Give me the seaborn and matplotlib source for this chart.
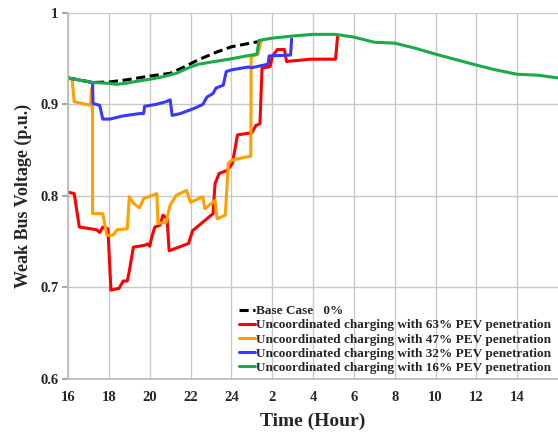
import matplotlib
matplotlib.use("Agg")
import matplotlib.pyplot as plt
import seaborn as sns

# --- data (hours counted from 16:00, 24 -> midnight) ---
t_base = [16.0, 17.2, 18.0, 18.9, 20.0, 21.0, 21.6, 22.4, 23.25, 24.0, 24.7, 25.4]
v_base = [0.929, 0.924, 0.9245, 0.927, 0.931, 0.934, 0.940, 0.949, 0.957, 0.963, 0.966, 0.969]

t_63 = [16.0, 16.3, 16.55, 17.4, 17.55, 17.7, 17.95, 18.1, 18.5, 18.7, 18.9, 19.0, 19.2,
        19.75, 19.9, 20.0, 20.1, 20.25, 20.5, 20.65, 20.85, 20.95, 21.9, 22.1, 23.1, 23.2,
        23.4, 23.8, 24.05, 24.3, 25.0, 25.2, 25.4, 25.5, 25.9, 26.0, 26.25, 26.6, 26.7,
        27.9, 29.1, 29.2]
v_63 = [0.804, 0.8026, 0.766, 0.763, 0.760, 0.766, 0.764, 0.697, 0.699, 0.707, 0.707, 0.718, 0.744,
        0.746, 0.7476, 0.745, 0.755, 0.766, 0.768, 0.779, 0.775, 0.740, 0.748, 0.762, 0.7806, 0.8135,
        0.8245, 0.828, 0.8355, 0.8667, 0.869, 0.877, 0.879, 0.9396, 0.9415, 0.9524, 0.960, 0.960, 0.947,
        0.9495, 0.9495, 0.9736]

t_47 = [16.0, 16.2, 16.3, 17.1, 17.15, 17.2, 17.2, 17.7, 17.9, 18.2, 18.4, 18.9, 19.0, 19.2,
        19.5, 19.7, 20.35, 20.4, 20.8, 21.0, 21.3, 21.8, 22.0, 22.6, 22.7, 23.2, 23.3, 23.7,
        23.85, 24.0, 24.95, 24.97, 25.3, 25.45]
v_47 = [0.929, 0.927, 0.903, 0.899, 0.918, 0.918, 0.7806, 0.7806, 0.757, 0.757, 0.763, 0.764, 0.799, 0.792,
        0.787, 0.797, 0.8025, 0.770, 0.771, 0.790, 0.8007, 0.806, 0.793, 0.799, 0.786, 0.795, 0.775, 0.779,
        0.8355, 0.839, 0.8436, 0.952, 0.955, 0.969]

t_32 = [16.0, 17.2, 17.22, 17.55, 17.7, 18.05, 18.7, 19.5, 19.7, 19.75, 20.3, 20.8, 21.0, 21.1,
        21.5, 22.1, 22.6, 22.8, 23.1, 23.25, 23.6, 23.75, 24.05, 24.85, 24.95, 25.8, 25.85, 26.9, 26.95]
v_32 = [0.929, 0.924, 0.901, 0.899, 0.884, 0.884, 0.8875, 0.890, 0.890, 0.898, 0.900, 0.903, 0.905, 0.888,
        0.890, 0.895, 0.900, 0.908, 0.912, 0.918, 0.921, 0.936, 0.938, 0.941, 0.940, 0.944, 0.953, 0.954, 0.9715]

t_16 = [16.0, 17.2, 18.0, 18.4, 18.8, 19.3, 20.0, 20.6, 21.3, 22.0, 22.4, 23.2, 23.9, 24.5, 25.25,
        25.35, 26.0, 27.1, 28.0, 29.1, 30.0, 31.0, 32.0, 33.0, 34.0, 35.0, 36.0, 36.9, 38.0, 39.0, 40.0]
v_16 = [0.929, 0.924, 0.923, 0.922, 0.923, 0.925, 0.9275, 0.930, 0.934, 0.941, 0.944, 0.947, 0.9495, 0.952, 0.955,
        0.970, 0.9725, 0.975, 0.9766, 0.9766, 0.9736, 0.968, 0.967, 0.9615, 0.955, 0.949, 0.943, 0.938, 0.933, 0.932, 0.929]

tick_pos = [16, 18, 20, 22, 24, 26, 28, 30, 32, 34, 36, 38]
tick_lbl = ["16", "18", "20", "22", "24", "2", "4", "6", "8", "10", "12", "14"]

labels = ["Base Case   0%",
          "Uncoordinated charging with 63% PEV penetration",
          "Uncoordinated charging with 47% PEV penetration",
          "Uncoordinated charging with 32% PEV penetration",
          "Uncoordinated charging with 16% PEV penetration"]

sns.set_theme(style="whitegrid")
plt.rcParams["font.family"] = ["Liberation Serif", "DejaVu Serif"]
plt.rcParams["font.weight"] = "bold"

fig = plt.figure(figsize=(5.58, 4.32), dpi=100)
ax = fig.add_axes([0.122, 0.123, 0.878, 0.847])

lw = 2.2
kw = dict(sort=False, estimator=None, lw=lw, ax=ax)
sns.lineplot(x=t_base, y=v_base, color="black", linestyle=(0, (3, 1.5)), label=labels[0], **kw)
sns.lineplot(x=t_63, y=v_63, color="#FF0000", label=labels[1], **kw)
sns.lineplot(x=t_47, y=v_47, color="#FFA000", label=labels[2], **kw)
sns.lineplot(x=t_32, y=v_32, color="#3838FF", label=labels[3], **kw)
sns.lineplot(x=t_16, y=v_16, color="#1AAA4A", label=labels[4], **kw)

ax.set_xlim(16, 40)
ax.set_ylim(0.6, 1.0)
ax.set_xticks(tick_pos)
ax.set_xticklabels(tick_lbl)
ax.set_yticks([0.6, 0.7, 0.8, 0.9, 1.0])
ax.set_yticklabels(["0.6", "0.7", "0.8", "0.9", "1"])
ax.tick_params(axis="both", labelsize=10.5, pad=3)
ax.tick_params(axis="y", left=True, length=4, color="#999999")
for lab in ax.get_xticklabels() + ax.get_yticklabels():
    lab.set_fontweight("bold")

ax.grid(True, color="#C8C8C8", lw=1)
for s in ["top", "right"]:
    ax.spines[s].set_visible(False)
for s in ["left", "bottom"]:
    ax.spines[s].set_color("#BBBBBB")

ax.set_xlabel("Time (Hour)", fontsize=14, fontweight="bold", labelpad=6)
ax.set_ylabel("Weak Bus Voltage (p.u.)", fontsize=13, fontweight="bold", labelpad=6)

leg = ax.legend(loc="lower right", bbox_to_anchor=(1.0, -0.005), frameon=False,
                handlelength=1.2, handletextpad=0.1, labelspacing=0.15,
                borderaxespad=0.1, prop={"weight": "bold", "size": 9.5})

fig.savefig("out.png", dpi=100)
